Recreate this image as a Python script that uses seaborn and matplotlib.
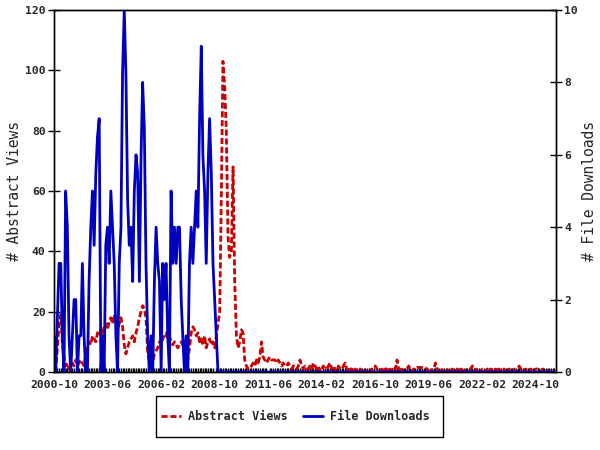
import matplotlib
matplotlib.use("Agg")
import numpy as np
import pandas as pd
import seaborn as sns
from matplotlib import pyplot as plt
import matplotlib.dates as mdates
from matplotlib.patches import Rectangle

# monthly counts, first month is 2000-10
first_month = "2000-10-01"

abstract_views = [
    3, 0, 8,                                        # 2000 (Oct-Dec)
    16, 19, 10, 5, 2, 3, 1, 2, 3, 2, 4, 2,          # 2001
    3, 4, 3, 2, 6, 8, 10, 9, 12, 11, 10, 13,        # 2002
    12, 14, 13, 15, 16, 14, 17, 18, 16, 19, 17, 14, # 2003
    16, 18, 15, 9, 6, 8, 10, 11, 12, 10, 13, 15,    # 2004
    18, 20, 22, 21, 18, 6, 4, 5, 3, 6, 7, 8,        # 2005
    10, 9, 11, 12, 13, 11, 12, 10, 9, 10, 9, 8,     # 2006
    9, 10, 9, 6, 5, 4, 8, 13, 15, 14, 12, 13,       # 2007
    10, 11, 9, 12, 8, 10, 11, 9, 10, 8, 12, 16,     # 2008
    20, 60, 103, 95, 80, 45, 38, 40, 68, 30, 12, 8, # 2009
    10, 14, 13, 4, 2, 1, 1, 2, 3, 2, 4, 3,          # 2010
    5, 10, 5, 4, 3, 4, 5, 4, 4, 4, 3, 4,            # 2011
    3, 2, 3, 2, 2, 3, 2, 1, 2, 2, 1, 2,             # 2012
    4, 2, 1, 2, 1, 1, 2, 1, 3, 2, 1, 2,             # 2013
    0, 1, 2, 1, 1, 2, 3, 1, 2, 1, 0, 2,             # 2014
    1, 1, 2, 3, 1, 0, 1, 1, 0, 1, 0, 1,             # 2015
    1, 0, 1, 0, 0, 1, 0, 1, 1, 2, 1, 0,             # 2016
    0, 1, 0, 1, 1, 0, 1, 0, 1, 1, 4, 1,             # 2017
    0, 1, 0, 1, 1, 2, 1, 0, 1, 1, 1.5, 1.5,         # 2018
    1.5, 1.5, 1.5, 1.5, 1, 0, 1, 0, 1, 3, 1, 0,     # 2019
    1, 0, 1, 1, 0, 1, 0, 1, 0, 0, 1, 0,             # 2020
    1, 0, 1, 0, 0, 1, 1, 2, 2, 1, 0, 1,             # 2021
    0, 1, 1, 0, 1, 0, 1, 0, 0, 1, 0, 1,             # 2022
    0, 0, 1, 0, 0, 1, 0, 0, 1, 0, 1, 2,             # 2023
    1, 0, 0, 1, 0, 0, 1, 0, 0, 1, 1, 0,             # 2024
    0, 1, 0, 0, 0, 1, 0, 0, 0,                      # 2025 (Jan-Sep)
]

file_downloads = [
    1, 0, 1.5,                                      # 2000
    3, 3, 1, 0, 5, 4, 1, 0, 1, 2, 2, 0,             # 2001
    1, 1, 3, 1, 0, 0, 2.5, 4, 5, 3.5, 5.5, 6.5,     # 2002
    7, 0, 1, 0, 3.5, 4, 3, 5, 4, 3, 1, 0,           # 2003
    3, 4, 8.25, 10, 8.25, 4.75, 3.5, 4, 2.5, 5, 6, 5.5,  # 2004
    2.5, 6, 8, 6.75, 3, 1, 0, 1, 0, 2.5, 4, 3,      # 2005
    2.5, 0, 3, 2, 3, 1, 0, 5, 3, 4, 3, 4,           # 2006
    4, 2, 1, 0, 1, 0, 3, 4, 3, 4, 5, 4,             # 2007
    7, 9, 6, 5, 3, 5.5, 7, 5.5, 3, 2, 1, 0,         # 2008
    0, 0, 0, 0, 0, 0, 0, 0, 0, 0, 0, 0,             # 2009
    0, 0, 0, 0, 0, 0, 0, 0, 0, 0, 0, 0,             # 2010
    0, 0, 0, 0, 0, 0, 0, 0, 0, 0, 0, 0,             # 2011
    0, 0, 0, 0, 0, 0, 0, 0, 0, 0, 0, 0,             # 2012
    0, 0, 0, 0, 0, 0, 0, 0, 0, 0, 0, 0,             # 2013
    0, 0, 0, 0, 0, 0, 0, 0, 0, 0, 0, 0,             # 2014
    0, 0, 0, 0, 0, 0, 0, 0, 0, 0, 0, 0,             # 2015
    0, 0, 0, 0, 0, 0, 0, 0, 0, 0, 0, 0,             # 2016
    0, 0, 0, 0, 0, 0, 0, 0, 0, 0, 0, 0,             # 2017
    0, 0, 0, 0, 0, 0, 0, 0, 0, 0, 0, 0,             # 2018
    0, 0, 0, 0, 0, 0, 0, 0, 0, 0, 0, 0,             # 2019
    0, 0, 0, 0, 0, 0, 0, 0, 0, 0, 0, 0,             # 2020
    0, 0, 0, 0, 0, 0, 0, 0, 0, 0, 0, 0,             # 2021
    0, 0, 0, 0, 0, 0, 0, 0, 0, 0, 0, 0,             # 2022
    0, 0, 0, 0, 0, 0, 0, 0, 0, 0, 0, 0,             # 2023
    0, 0, 0, 0, 0, 0, 0, 0, 0, 0, 0, 0,             # 2024
    0, 0, 0, 0, 0, 0, 0, 0, 0,                      # 2025
]

views_ticks = [0, 20, 40, 60, 80, 100, 120]
downloads_ticks = [0, 2, 4, 6, 8, 10]
label_every = 32  # months between date labels

dates = pd.date_range(first_month, periods=len(abstract_views), freq="MS")
df = pd.DataFrame({"date": dates, "views": abstract_views, "downloads": file_downloads})

sns.set_style("white")
plt.rcParams["font.family"] = ["DejaVu Sans Mono"]

fig = plt.figure(figsize=(6, 4.5), dpi=100)
ax = fig.add_axes([54 / 600, 1 - 372 / 450, 502 / 600, 362 / 450])
ax2 = ax.twinx()

red = "#cc0000"
blue = "#0000c0"
dash = (0, (2.2, 1.0))
sns.lineplot(data=df, x="date", y="views", ax=ax, color=red, lw=2.0,
             linestyle=dash, legend=False)
sns.lineplot(data=df, x="date", y="downloads", ax=ax2, color=blue, lw=2.0,
             legend=False)

ax.set_xlim(dates[0], dates[0] + pd.DateOffset(months=len(dates)))
ax.set_xticks(dates[::label_every])
ax.set_xticks(dates, minor=True)
ax.xaxis.set_major_formatter(mdates.DateFormatter("%Y-%m"))
ax.set_ylim(0, 120)
ax.set_yticks(views_ticks)
ax2.set_ylim(0, 10)
ax2.set_yticks(downloads_ticks)

for a in (ax, ax2):
    a.tick_params(axis="both", which="major", direction="inout", length=8,
                  width=1, color="black", labelsize=8.2, pad=2)
    for lab in a.get_xticklabels() + a.get_yticklabels():
        lab.set_fontweight("bold")
    for s in a.spines.values():
        s.set_color("black")
        s.set_linewidth(1)
ax.tick_params(axis="x", which="minor", direction="in", length=3, width=1,
               color="black", bottom=True)

ax.set_xlabel("")
ax.set_ylabel("# Abstract Views", fontsize=10.5, labelpad=2)
ax2.set_ylabel("# File Downloads", fontsize=10.5, labelpad=3)

# legend box below the plot
fig.patches.append(Rectangle((156 / 600, 1 - 437 / 450), 287 / 600, 41 / 450,
                             transform=fig.transFigure, fill=False,
                             edgecolor="black", linewidth=1))
handles = [plt.Line2D([], [], color=red, lw=2, linestyle=dash),
           plt.Line2D([], [], color=blue, lw=2)]
fig.legend(handles, ["Abstract Views", "File Downloads"], loc="center",
           bbox_to_anchor=(0.492, 0.0744), ncol=2, frameon=False,
           prop={"weight": "bold", "size": 8.5}, handlelength=1.7,
           handletextpad=0.6, columnspacing=1.3)

fig.savefig("out.png", dpi=100)
